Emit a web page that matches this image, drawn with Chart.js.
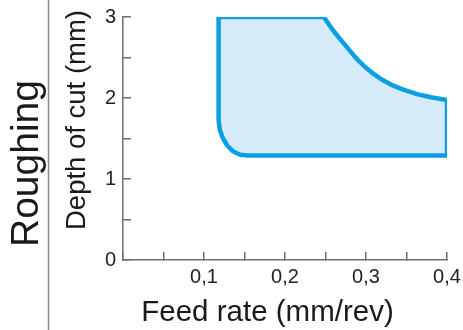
<!DOCTYPE html>
<html>
<head>
<meta charset="utf-8">
<script src="https://cdn.jsdelivr.net/npm/chart.js@4.4.0/dist/chart.umd.min.js"></script>
<style>
  html, body { margin: 0; padding: 0; background: #fff; }
  #wrap { position: relative; width: 463px; height: 330px; }
</style>
</head>
<body>
<div id="wrap"><canvas id="chart"></canvas></div>
<script>
// outline of the roughing area (closed path)
var feedRate   = [0.118, 0.248, 0.253, 0.259, 0.265, 0.272, 0.280, 0.288, 0.298, 0.309, 0.320, 0.333, 0.347, 0.362, 0.380, 0.400,
                  0.400, 0.154, 0.145, 0.136, 0.129, 0.123, 0.1195, 0.118, 0.118];
var depthOfCut = [3.00, 3.00, 2.925, 2.84, 2.765, 2.68, 2.585, 2.49, 2.39, 2.30, 2.225, 2.155, 2.10, 2.05, 2.01, 1.975,
                  1.29, 1.29, 1.30, 1.34, 1.41, 1.51, 1.61, 1.73, 3.00];

var xTickLabels = ['0,1', '0,2', '0,3', '0,4'];
var yTickLabels = ['0', '1', '2', '3'];

var axisColor = '#6e6e6e';
var font = '"Liberation Sans", Arial, sans-serif';

var points = feedRate.map(function(x, i){ return {x: x, y: depthOfCut[i]}; });

var texts = {
    id: 'texts',
    afterDraw: function(chart){
        var c = chart.ctx;
        c.save();
        // separator line
        c.strokeStyle = '#8a8a8a';
        c.lineWidth = 1.5;
        c.beginPath();
        c.moveTo(48.5, 0);
        c.lineTo(48.5, 330);
        c.stroke();

        c.fillStyle = '#1a1a1a';
        c.textAlign = 'center';
        c.textBaseline = 'middle';

        c.font = '39px ' + font;
        c.save(); c.translate(27.5, 163.5); c.rotate(-Math.PI / 2);
        c.fillText('Roughing', 0, 0);
        c.restore();

        c.font = '27.5px ' + font;
        c.save(); c.translate(77, 120); c.rotate(-Math.PI / 2);
        c.fillText('Depth of cut (mm)', 0, 0);
        c.restore();

        c.font = '29.5px ' + font;
        c.fillText('Feed rate (mm/rev)', 267.5, 312.5);
        c.restore();
    }
};

function noPad(s){
    s.paddingLeft = 0; s.paddingRight = 0; s.paddingTop = 0; s.paddingBottom = 0;
}

new Chart(document.getElementById('chart'), {
    type: 'scatter',
    data: {
        datasets: [{
            data: points,
            showLine: true,
            fill: 'shape',
            backgroundColor: '#d5ebf9',
            borderColor: '#0a9fe2',
            borderWidth: 4.5,
            borderJoinStyle: 'miter',
            pointRadius: 0,
            tension: 0
        }]
    },
    options: {
        responsive: true,
        maintainAspectRatio: false,
        animation: false,
        layout: { padding: { left: 0, right: 16, top: 17, bottom: 0 } },
        plugins: { legend: { display: false }, tooltip: { enabled: false } },
        scales: {
            x: {
                type: 'linear', min: 0, max: 0.4,
                afterFit: function(s){ s.height = 70; noPad(s); },
                ticks: {
                    stepSize: 0.05, autoSkip: false, maxRotation: 0, padding: 13,
                    color: '#222', font: { family: font, size: 20 },
                    callback: function(v){
                        var n = Math.round(v * 100);
                        return (n > 0 && n % 10 === 0) ? xTickLabels[n / 10 - 1] : '';
                    }
                },
                grid: { drawOnChartArea: false, tickLength: -8, color: axisColor, lineWidth: 1.5 },
                border: { color: axisColor, width: 1.5 }
            },
            y: {
                min: 0, max: 3,
                afterFit: function(s){ s.width = 123; noPad(s); },
                ticks: {
                    stepSize: 0.5, autoSkip: false, padding: 15,
                    color: '#222', font: { family: font, size: 20 },
                    callback: function(v){
                        var n = Math.round(v * 10);
                        return n % 10 === 0 ? yTickLabels[n / 10] : '';
                    }
                },
                grid: { drawOnChartArea: false, tickLength: -8, color: axisColor, lineWidth: 1.5 },
                border: { color: axisColor, width: 1.5 }
            }
        }
    },
    plugins: [texts]
});
</script>
</body>
</html>
